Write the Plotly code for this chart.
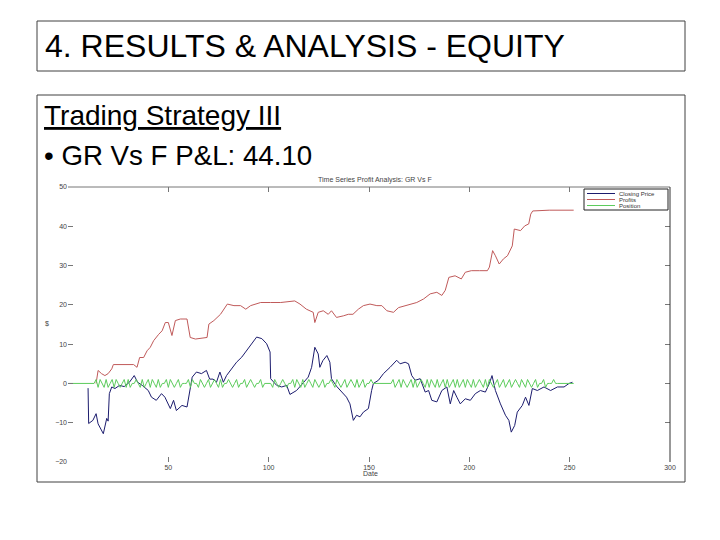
import plotly.graph_objects as go

# ---------------------------------------------------------
# data
# ---------------------------------------------------------
slide_title = "4. RESULTS & ANALYSIS - EQUITY"
subtitle = "Trading Strategy III"
bullet = "• GR Vs F P&L: 44.10"
chart_title = "Time Series Profit Analysis: GR Vs F"
series_names = ["Closing Price", "Profits", "Position"]

price_day = [10, 10.3, 12.4, 14, 15, 17.6, 19.3, 20, 20.6, 21.8, 23.4, 25.7, 28, 30.6, 33, 34.7,
             37, 40, 41.6, 44, 46.6, 48.3, 51, 52.6, 54, 56.8, 59.3, 60.6, 61.9, 64, 66.5, 69,
             70.6, 72.3, 74, 75.7, 77.4, 79, 81.6, 84, 86.6, 89, 91.6, 94, 96.6, 99, 100.7, 101,
             104, 106.5, 109, 110.6, 113.9, 117, 119.7, 121.4, 123, 124.7, 125.5, 127, 129, 130.5,
             131.3, 133.8, 136.3, 138.8, 140.5, 142.2, 143.8, 145.5, 147.2, 149.7, 151.3, 152.2,
             154.7, 157.2, 160.5, 163.8, 165.5, 168, 169.7, 171.3, 173, 175.5, 178, 179.7, 181.3,
             183.8, 186.3, 188.8, 190.5, 192.2, 193.8, 195.5, 198, 200.5, 203, 205.5, 208, 210,
             211.3, 213, 215.5, 218, 219.7, 220.9, 222.6, 223.9, 226.4, 228, 229.7, 231.4, 233.9,
             237.2, 240.5, 243.9, 247.2, 249.7, 251.4]
price_val = [-1.2, -10.2, -9.4, -7.7, -10.3, -12.8, -8.9, -9.6, -2.6, -0.9, -1.3, -0.5, -0.8, 0.3,
             2.0, 0.3, -0.5, -1.8, -3.5, -4.3, -2.6, -3.5, -6.4, -4.3, -6.9, -5.6, -6.0, -1.8, 1.6,
             2.9, 2.5, 3.3, 1.1, 1.1, 0.3, 2.9, 0.3, 2.0, 3.7, 5.4, 6.7, 8.4, 10.1, 11.8, 11.4, 10.1,
             8.0, 1.2, -0.5, -0.9, -0.5, -2.8, -1.8, 0.0, 1.6, 4.1, 9.2, 7.5, 4.1, 5.8, 7.1, 5.4,
             1.2, -0.7, -2.2, -3.5, -5.2, -9.4, -8.1, -8.5, -7.3, -6.4, -1.8, 0.0, 0.8, 2.5, 4.1,
             5.9, 5.0, 5.4, 5.0, 2.0, 0.8, 1.2, -2.2, -1.8, -4.3, -4.7, -1.8, -0.9, -5.2, -1.8,
             -3.5, -5.2, -3.9, -4.3, -2.6, -1.8, -2.2, 0.0, 2.0, -1.8, -5.2, -8.1, -9.4, -12.4,
             -10.7, -7.3, -5.6, -3.5, -5.6, -1.3, -1.8, -0.9, -1.8, -0.9, -0.9, 0.0, 0.3]

profit_day = [14, 15, 16.7, 18.4, 20, 21.8, 22.6, 27.6, 32.7, 34.4, 35.7, 37.7, 39.4, 41, 42.7,
              45.2, 46.9, 48.5, 50, 51.8, 53.5, 56, 59.3, 60.9, 63.5, 69.3, 70.2, 72.7, 76, 79.4,
              82.7, 86, 88.6, 91, 96, 101, 106, 113, 115.6, 118.8, 122.2, 123, 124.7, 127.2,
              129.7, 131.3, 133.8, 137.2, 139.7, 142, 144.7, 147.2, 150.5, 153.9, 156.4, 158.9,
              162.2, 164.7, 170.5, 173.8, 177.2, 180.5, 183.8, 186.3, 188, 189.8, 192.9, 196,
              198, 201, 205, 209, 210, 211.6, 213, 214.9, 217, 219, 221.4, 222.4, 225.5, 227.6,
              229.6, 230.6, 231.6, 239.8, 252]
profit_val = [0.0, 3.3, 2.5, 2.0, 2.5, 3.7, 4.8, 4.8, 4.8, 4.1, 6.6, 6.6, 8.3, 9.2, 10.9, 12.5,
              13.4, 15.5, 15.5, 12.2, 16.0, 16.4, 16.4, 11.7, 11.3, 11.7, 15.1, 16.0, 17.6, 20.2,
              19.8, 19.8, 18.9, 19.8, 20.6, 20.6, 20.6, 21.0, 20.2, 18.9, 18.1, 15.5, 18.1, 18.5,
              17.6, 18.5, 16.8, 17.2, 17.6, 17.6, 18.9, 19.8, 20.2, 19.8, 19.8, 18.5, 18.1, 19.3,
              20.2, 20.6, 21.5, 22.8, 23.2, 22.4, 23.7, 27.0, 27.4, 26.6, 28.3, 28.7, 28.7, 28.7,
              29.6, 33.8, 32.5, 30.4, 31.7, 32.5, 35.0, 39.3, 38.9, 40.1, 40.6, 43.1, 43.9, 44.1,
              44.1]

# position, one value per day from day 0 to day 252
position = [0, 0, 0, 0, 0, 0, 0, 0, 0, 0,
            0, 0, 0, 0, 1, -1, 1, 0, -1, 1, -1, 0, 1, -1, 1, 0, -1, 0, 1, -1, 1, -1, 0, 0, 1, 0, -1, 1, -1, 0,
            1, -1, 1, 0, -1, 1, -1, 0, 0, 1, -1, 1, 0, -1, 0, 1, -1, 0, 0, 0, 1, -1, 1, 0, 0, -1, 1, 0, -1, 0,
            1, -1, 0, 1, 0, -1, 1, -1, 0, 0, 1, 0, -1, 0, 1, -1, 0, 0, 1, -1, 0, 1, 0, -1, 0, 0, 1, -1, 0, 0,
            0, 0, -1, 1, 0, -1, 0, 1, 0, -1, 0, 0, 1, -1, 1, 0, -1, 1, -1, 0, 1, 0, -1, 1, 0, -1, 0, 1, -1, 0,
            0, 1, 0, -1, 1, 0, -1, 0, 1, -1, 0, 1, 0, -1, 1, -1, 0, 1, -1, 0, 0, 1, 0, 0, 0, 0, 0, 0, 0, 0,
            0, 0, 1, -1, 0, 1, -1, 1, 0, -1, 0, 1, -1, 1, -1, 0, 1, 0, -1, 1, -1, 1, 0, -1, 1, -1, 0, 1, -1, 1,
            -1, 0, 1, -1, 1, -1, 0, 1, -1, 1, 0, -1, 1, -1, 0, 1, 0, -1, 1, -1, 1, 0, -1, 0, 1, -1, 0, 1, -1, 0,
            1, -1, 0, 1, 0, -1, 1, 0, -1, 1, 0, -1, 0, 1, -1, 0, 0, 1, -1, 0, 0, 0, 1, 0, 0, 0, 0, 0, 0, 0,
            0, 0, 0]
position_day = list(range(len(position)))

x_ticks = [50, 100, 150, 200, 250, 300]
y_ticks = [-20, -10, 0, 10, 20, 30, 40, 50]

COLORS = ["#1c1c6e", "#c05a5a", "#5ccc5c"]

# ---------------------------------------------------------
# layout helpers: plot area is 68..670 px wide, 187..462 px tall
# ---------------------------------------------------------
L, R, T, B = 68, 670, 187, 462


def px(x):
    return (x - L) / (R - L)


def py(y):
    return (B - y) / (B - T)


FONT = "Liberation Sans, Arial, sans-serif"
SMALL = dict(family=FONT, size=7, color="#444")

fig = go.Figure()
for xs, ys, name, col in [(price_day, price_val, series_names[0], COLORS[0]),
                          (profit_day, profit_val, series_names[1], COLORS[1]),
                          (position_day, position, series_names[2], COLORS[2])]:
    fig.add_trace(go.Scatter(x=xs, y=ys, mode="lines", name=name,
                             line=dict(color=col, width=1), showlegend=False))

# slide frames + axes box (top & right only, as on the slide)
frames = [(37, 21, 685, 71), (37, 95, 685, 482)]
for x0, y0, x1, y1 in frames:
    fig.add_shape(type="rect", xref="paper", yref="paper",
                  x0=px(x0), x1=px(x1), y0=py(y0), y1=py(y1),
                  line=dict(color="#404040", width=1), layer="below")
fig.add_shape(type="line", xref="paper", yref="paper", x0=0, x1=1, y0=1, y1=1,
              line=dict(color="#777", width=1))
fig.add_shape(type="line", xref="paper", yref="paper", x0=1, x1=1, y0=0, y1=1,
              line=dict(color="#333", width=1))

# small matlab-style legend
fig.add_shape(type="rect", xref="paper", yref="paper",
              x0=px(584), x1=px(668), y0=py(210), y1=py(189),
              line=dict(color="#222", width=1), fillcolor="white")
for i, (name, col) in enumerate(zip(series_names, COLORS)):
    yy = 193.5 + 6 * i
    fig.add_shape(type="line", xref="paper", yref="paper",
                  x0=px(587), x1=px(615), y0=py(yy), y1=py(yy),
                  line=dict(color=col, width=1))
    fig.add_annotation(xref="paper", yref="paper", showarrow=False, text=name,
                       x=px(617), y=py(yy), xanchor="left", yanchor="middle",
                       font=dict(family=FONT, size=6, color="#333"))

annotations = [
    dict(text=slide_title, x=px(43), y=py(46), xanchor="left", yanchor="middle",
         font=dict(family=FONT, size=32, color="black")),
    dict(text=f"<u>{subtitle}</u>", x=px(42), y=py(116), xanchor="left", yanchor="middle",
         font=dict(family=FONT, size=28, color="black")),
    dict(text=bullet, x=px(42), y=py(156), xanchor="left", yanchor="middle",
         font=dict(family=FONT, size=27.7, color="black")),
    dict(text=chart_title, x=px(375), y=py(180), xanchor="center", yanchor="middle", font=SMALL),
    dict(text="$", x=px(47), y=py(323), xanchor="center", yanchor="middle", font=SMALL),
    dict(text="Date", x=px(370), y=py(473), xanchor="center", yanchor="middle", font=SMALL),
]
for a in annotations:
    fig.add_annotation(xref="paper", yref="paper", showarrow=False, **a)

fig.update_xaxes(range=[0, 300], tickvals=x_ticks, ticks="inside", ticklen=5,
                 tickcolor="#777", mirror="ticks", showline=False, showgrid=False,
                 zeroline=False, tickfont=SMALL)
fig.update_yaxes(range=[-20, 50], tickvals=y_ticks, ticks="inside", ticklen=5,
                 tickcolor="#777", mirror="ticks", showline=False, showgrid=False,
                 zeroline=False, tickfont=SMALL)

fig.update_layout(
    width=720, height=540,
    margin=dict(l=L, r=720 - R, t=T, b=540 - B, pad=0),
    paper_bgcolor="white", plot_bgcolor="white",
    showlegend=False,
)

# page body has an 8px default margin; drop it so the figure sits at 0,0
fig.write_html("out.html", config={"displayModeBar": False},
               post_script="document.body.style.margin='0';")
